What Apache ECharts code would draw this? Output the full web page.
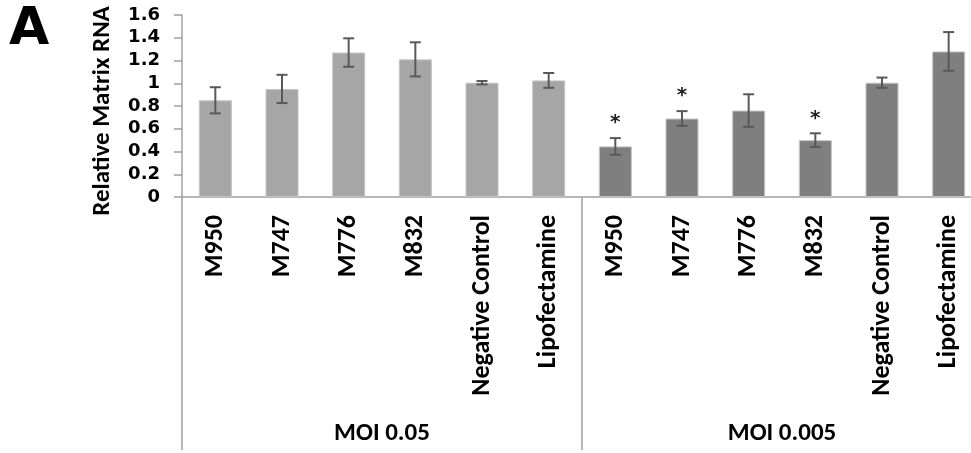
<!DOCTYPE html>
<html>
<head>
<meta charset="utf-8">
<script src="https://cdn.jsdelivr.net/npm/echarts@6/dist/echarts.min.js"></script>
<style>
html,body{margin:0;padding:0;background:#fff;}
#chart{width:971px;height:453px;}
</style>
</head>
<body>
<div id="chart"></div>
<script>
var categories = ['M950','M747','M776','M832','Negative Control','Lipofectamine',
                  'M950','M747','M776','M832','Negative Control','Lipofectamine'];
var groups = ['MOI 0.05','MOI 0.005'];
var groupIndex = [0,0,0,0,0,0,1,1,1,1,1,1];
var values = [0.85,0.95,1.27,1.21,1.005,1.025, 0.445,0.69,0.76,0.50,1.005,1.28];
var errors = [0.115,0.124,0.125,0.15,0.015,0.065, 0.073,0.065,0.143,0.06,0.045,0.17];
var significant = [false,false,false,false,false,false, true,true,false,true,false,false];
var yTicks = [0,0.2,0.4,0.6,0.8,1,1.2,1.4,1.6];
var groupColors = ['#a6a6a6','#7f7f7f'];

var chart = echarts.init(document.getElementById('chart'), null, {renderer:'canvas'});
var font = 'Carlito, Lato, sans-serif';
var tickFont = 'DejaVu Sans, sans-serif';

var errData = values.map(function(v,i){ return [i, v - errors[i], v + errors[i], significant[i] ? 1 : 0]; });

chart.setOption({
  animation:false,
  backgroundColor:'#fff',
  textStyle:{fontFamily:font},
  graphic:[{type:'text', left:9, top:4, style:{text:'A', fontFamily:tickFont, fontWeight:'bold', fontSize:52, fill:'#000'}}],
  grid:{left:182, top:15, width:800, bottom:256, containLabel:false, outerBoundsMode:'none'},
  xAxis:[{
    type:'category', data:categories, position:'bottom',
    axisLine:{lineStyle:{color:'#a0a0a0', width:1.5}},
    axisTick:{show:false},
    axisLabel:{rotate:90, interval:0, margin:18, fontFamily:font, fontWeight:'bold', fontSize:26, color:'#000'}
  },{
    type:'category', data:groups, position:'bottom', offset:0,
    axisLine:{show:false},
    axisTick:{show:true, length:253, lineStyle:{color:'#a0a0a0', width:1.5}},
    axisLabel:{interval:0, margin:224, fontFamily:font, fontWeight:'bold', fontSize:25, color:'#000'}
  }],
  yAxis:{
    type:'value', min:yTicks[0], max:yTicks[yTicks.length-1], interval:0.2,
    name:'Relative Matrix RNA', nameLocation:'middle', nameGap:67,
    nameTextStyle:{fontFamily:font, fontWeight:'bold', fontSize:25, color:'#000', padding:[0,10,0,0]},
    axisLine:{show:true, lineStyle:{color:'#a0a0a0', width:1.5}},
    axisTick:{show:true, length:8, lineStyle:{color:'#a0a0a0', width:1.5}},
    axisLabel:{margin:22, fontFamily:tickFont, fontWeight:'bold', fontSize:18, color:'#000'},
    splitLine:{show:false}
  },
  series:[{
    type:'bar', xAxisIndex:0, barWidth:33,
    data:values.map(function(v,i){ return {value:v, itemStyle:{color:groupColors[groupIndex[i]]}}; }),
    itemStyle:{borderColor:'#c4c4c4', borderWidth:1}
  },{
    type:'custom', xAxisIndex:0, data:errData, z:10,
    renderItem:function(params, api){
      var x = api.value(0);
      var lo = api.coord([x, api.value(1)]);
      var hi = api.coord([x, api.value(2)]);
      var cap = 5.5;
      var st = {stroke:'#595959', lineWidth:2};
      var children = [
        {type:'line', shape:{x1:lo[0], y1:lo[1], x2:hi[0], y2:hi[1]}, style:st},
        {type:'line', shape:{x1:lo[0]-cap, y1:lo[1], x2:lo[0]+cap, y2:lo[1]}, style:st},
        {type:'line', shape:{x1:hi[0]-cap, y1:hi[1], x2:hi[0]+cap, y2:hi[1]}, style:st}
      ];
      if (api.value(3)) {
        children.push({type:'text', style:{text:'*', x:hi[0], y:hi[1]-15, align:'center', verticalAlign:'middle', fontFamily:tickFont, fontWeight:'bold', fontSize:20, fill:'#222'}});
      }
      return {type:'group', children:children};
    }
  }]
});
</script>
</body>
</html>
